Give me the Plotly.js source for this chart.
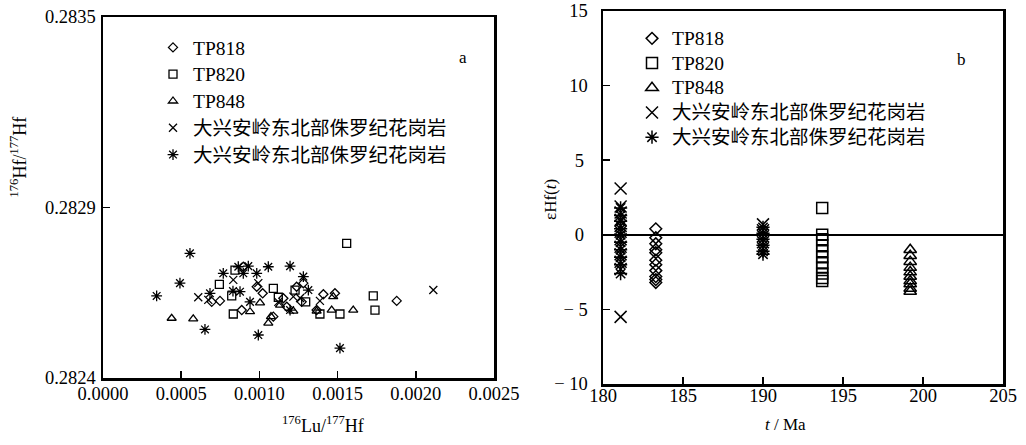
<!DOCTYPE html>
<html>
<head>
<meta charset="utf-8">
<script src="https://cdn.plot.ly/plotly-3.0.1.min.js"></script>
<style>html,body{margin:0;padding:0;background:#fff;}#chart{width:1026px;height:445px;}</style>
</head>
<body>
<div id="chart"></div>
<script>
// ---- series names ----
var seriesNames = ["TP818", "TP820", "TP848", "大兴安岭东北部侏罗纪花岗岩", "大兴安岭东北部侏罗纪花岗岩"];

// ---- panel a: 176Lu/177Hf vs 176Hf/177Hf ----
var lu818 = [0.001878,0.001483,0.001409,0.000748,0.000695,0.000887,0.001021,0.001281,0.001238,0.001270,0.001175,0.001089,0.001366,0.000983,0.000897,0.001153];
var hf818 = [0.282635,0.282658,0.282655,0.282635,0.282632,0.282607,0.282658,0.282689,0.282678,0.282632,0.282617,0.282587,0.282607,0.282678,0.282739,0.282643];
var lu820 = [0.001558,0.000844,0.000744,0.001089,0.001228,0.000823,0.001121,0.001296,0.001728,0.001739,0.001515,0.001387,0.000833];
var hf820 = [0.282810,0.282729,0.282685,0.282673,0.282668,0.282650,0.282646,0.282632,0.282650,0.282607,0.282595,0.282595,0.282595];
var lu848 = [0.000439,0.000577,0.001057,0.000940,0.001004,0.001217,0.001366,0.001462,0.001600,0.001472,0.001132,0.001074];
var hf848 = [0.282582,0.282580,0.282567,0.282602,0.282629,0.282604,0.282604,0.282607,0.282607,0.282648,0.282622,0.282587];
var luGraniteX = [0.002112,0.000609,0.000673,0.001387,0.001121,0.001217,0.000833,0.001260,0.000993];
var hfGraniteX = [0.282668,0.282646,0.282638,0.282635,0.282632,0.282648,0.282699,0.282644,0.282689];
var luGraniteStar = [0.000556,0.000492,0.000343,0.000652,0.000993,0.001515,0.000865,0.000929,0.000769,0.000983,0.001057,0.001196,0.000897,0.000831,0.000684,0.001281,0.001313,0.001196,0.000940,0.000876];
var hfGraniteStar = [0.282780,0.282689,0.282650,0.282548,0.282531,0.282491,0.282739,0.282741,0.282719,0.282719,0.282739,0.282741,0.282719,0.282665,0.282658,0.282709,0.282668,0.282607,0.282632,0.282663];

// ---- panel b: t (Ma) vs epsilon Hf(t) ----
var age818 = [183.3,183.3,183.3,183.3,183.3,183.3,183.3,183.3,183.3,183.3,183.3];
var eps818 = [0.4,-0.2,-0.6,-1.0,-1.2,-1.7,-2.0,-2.4,-2.8,-3.0,-3.2];
var age820 = [193.7,193.7,193.7,193.7,193.7,193.7,193.7,193.7,193.7,193.7,193.7];
var eps820 = [1.8,0.0,-0.3,-0.7,-1.1,-1.5,-1.9,-2.2,-2.6,-2.9,-3.1];
var age848 = [199.2,199.2,199.2,199.2,199.2,199.2,199.2,199.2,199.2,199.2];
var eps848 = [-1.0,-1.4,-1.8,-2.2,-2.5,-2.8,-3.1,-3.3,-3.6,-3.8];
var ageGraniteX = [181.1,181.1,181.1,181.1,181.1,181.1,181.1,181.1,181.1,181.1,181.1,181.1,190.0,190.0,190.0,190.0,190.0];
var epsGraniteX = [3.1,1.9,1.5,1.0,0.6,0.2,-0.3,-0.8,-1.3,-1.8,-2.3,-5.5,0.7,0.3,-0.1,-0.5,-0.9];
var ageGraniteStar = [181.1,181.1,181.1,181.1,181.1,181.1,181.1,181.1,181.1,181.1,190.0,190.0,190.0,190.0,190.0,190.0];
var epsGraniteStar = [1.8,1.3,0.9,0.4,0.0,-0.5,-1.0,-1.5,-2.0,-2.6,0.5,0.1,-0.3,-0.7,-1.1,-1.3];

// ---- tick labels ----
var xTicksA = [0, 0.0005, 0.0010, 0.0015, 0.0020, 0.0025];
var xTickTextA = ["0.0000","0.0005","0.0010","0.0015","0.0020","0.0025"];
var yTicksA = [0.2824, 0.28292, 0.2835];
var yTickTextA = ["0.2824","0.2829","0.2835"];
var xTicksB = [180, 185, 190, 195, 200, 205];
var xTickTextB = ["180","185","190","195","200","205"];
var yTicksB = [-10, -5, 0, 5, 10, 15];
var yTickTextB = ["− 10","− 5","0\u2009","5\u2009","10","15"];

var SERIF = "'Liberation Serif', 'Noto Sans CJK SC', serif";
var symbols = ["diamond-open","square-open","triangle-up-open","x-thin-open","asterisk-open"];
var sizesA = [7, 8, 8, 8, 9];
var sizesB = [9, 11, 11, 12, 11];

var dataA = [[lu818,hf818],[lu820,hf820],[lu848,hf848],[luGraniteX,hfGraniteX],[luGraniteStar,hfGraniteStar]];
var dataB = [[age818,eps818],[age820,eps820],[age848,eps848],[ageGraniteX,epsGraniteX],[ageGraniteStar,epsGraniteStar]];

function legendName(s){ return '<span style="font-size:19.5px">' + s + '</span>'; }

var traces = [];
dataA.forEach(function(d, i){
  traces.push({
    x: d[0], y: d[1], xaxis: 'x', yaxis: 'y', type: 'scatter', mode: 'markers',
    name: legendName(seriesNames[i]), legend: 'legend', cliponaxis: false,
    marker: {symbol: symbols[i], size: sizesA[i], color: '#000', line: {color: '#000', width: 1.3}}
  });
});
dataB.forEach(function(d, i){
  traces.push({
    x: d[0], y: d[1], xaxis: 'x2', yaxis: 'y2', type: 'scatter', mode: 'markers',
    name: legendName(seriesNames[i]), legend: 'legend2', cliponaxis: false,
    marker: {symbol: symbols[i], size: sizesB[i], color: '#000', line: {color: '#000', width: 1.5}}
  });
});

function axisBase(){
  return {
    showline: true, mirror: true, linecolor: '#000', linewidth: 2.5,
    ticks: 'inside', ticklen: 7, tickwidth: 1.5, tickcolor: '#000',
    showgrid: false, zeroline: false,
    tickfont: {family: SERIF, size: 18.5, color: '#000'}
  };
}

var xa = axisBase(); Object.assign(xa, {domain:[103/1026, 494/1026], range:[0,0.0025], tickmode:'array', tickvals:xTicksA, ticktext:xTickTextA, anchor:'y', ticklabelstandoff: -3});
var ya = axisBase(); Object.assign(ya, {domain:[1-378/445, 1-17/445], range:[0.2824,0.2835], tickmode:'array', tickvals:yTicksA, ticktext:yTickTextA, anchor:'x', ticklabelstandoff: 1});
var xb = axisBase(); Object.assign(xb, {domain:[603/1026, 1003/1026], range:[180,205], tickmode:'array', tickvals:xTicksB, ticktext:xTickTextB, anchor:'y2', ticklabelstandoff: -7});
var yb = axisBase(); Object.assign(yb, {domain:[1-384/445, 1-11/445], range:[-10,15], tickmode:'array', tickvals:yTicksB, ticktext:yTickTextB, anchor:'x2', ticklabelstandoff: 9,
  zeroline: true, zerolinecolor: '#000', zerolinewidth: 1.5});

var layout = {
  width: 1026, height: 445,
  margin: {l:0, r:0, t:0, b:0},
  paper_bgcolor: '#fff', plot_bgcolor: '#fff',
  font: {family: SERIF, color: '#000'},
  xaxis: xa, yaxis: ya, xaxis2: xb, yaxis2: yb,
  legend: {x: 153/1026, y: 1-29/445, xanchor: 'left', yanchor: 'top', bgcolor: 'rgba(0,0,0,0)',
    font: {family: SERIF, size: 18.3, color: '#000'}, itemsizing: 'trace', traceorder: 'normal'},
  legend2: {x: 632/1026, y: 1-21/445, xanchor: 'left', yanchor: 'top', bgcolor: 'rgba(0,0,0,0)',
    font: {family: SERIF, size: 16.7, color: '#000'}, itemsizing: 'trace', traceorder: 'normal'},
  annotations: [
    {text: '<sup>176</sup>Hf/<sup>177</sup>Hf', xref:'paper', yref:'paper', x: 6/1026, y: 1-157/445, xanchor:'left', yanchor:'middle', textangle: -90, showarrow:false, font:{family:SERIF, size:18}},
    {text: '<sup>176</sup>Lu/<sup>177</sup>Hf', xref:'paper', yref:'paper', x: 323/1026, y: 1-411/445, xanchor:'center', yanchor:'top', showarrow:false, font:{family:SERIF, size:18}},
    {text: 'εHf(<i>t</i>)', xref:'paper', yref:'paper', x: 550/1026, y: 1-200/445, textangle: -90, showarrow:false, font:{family:SERIF, size:17}},
    {text: '<i>t</i> / Ma', xref:'paper', yref:'paper', x: 808/1026, y: 1-436/445, showarrow:false, font:{family:SERIF, size:17}},
    {text: 'a', xref:'paper', yref:'paper', x: 463/1026, y: 1-46/445, showarrow:false, font:{family:SERIF, size:17}},
    {text: 'b', xref:'paper', yref:'paper', x: 968/1026, y: 1-48/445, showarrow:false, font:{family:SERIF, size:17}}
  ]
};

Plotly.newPlot('chart', traces, layout, {staticPlot: true, displayModeBar: false});
</script>
</body>
</html>
